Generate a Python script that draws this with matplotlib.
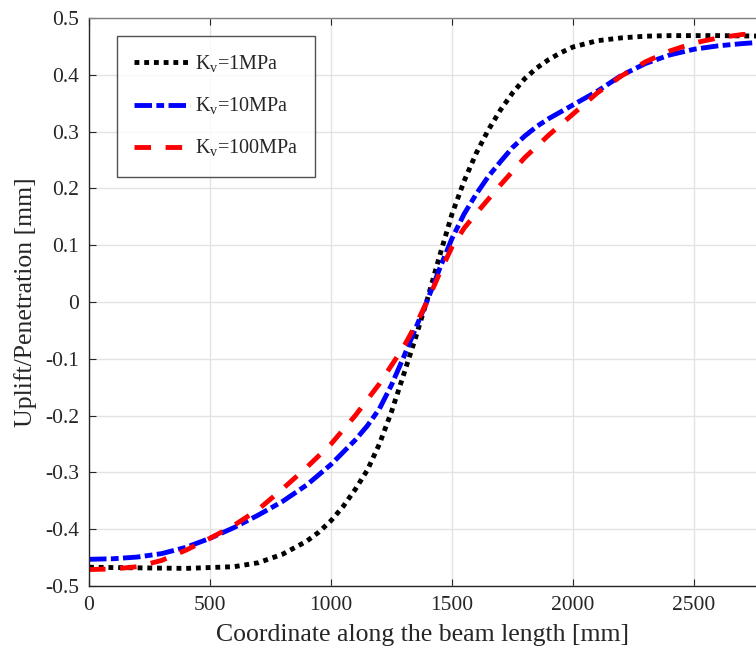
import matplotlib
matplotlib.use("Agg")
import matplotlib.pyplot as plt
import numpy as np

# ---- data ----
x_k1 = [0, 200, 400, 600, 700, 800, 900, 950, 1000, 1050, 1100, 1150, 1200, 1250,
        1300, 1350, 1400, 1450, 1500, 1550, 1600, 1650, 1700, 1750, 1800, 1850,
        1900, 1950, 2000, 2100, 2200, 2300, 2400, 2600, 2800]
y_k1 = [-0.467, -0.468, -0.469, -0.466, -0.459, -0.444, -0.421, -0.405, -0.385,
        -0.360, -0.330, -0.296, -0.250, -0.193, -0.128, -0.062, 0.008, 0.083,
        0.155, 0.213, 0.262, 0.303, 0.338, 0.368, 0.393, 0.412, 0.427, 0.439,
        0.449, 0.460, 0.465, 0.468, 0.469, 0.469, 0.468]

x_k10 = [0, 100, 200, 300, 400, 500, 600, 700, 800, 900, 1000, 1100, 1150, 1200,
         1250, 1300, 1350, 1400, 1450, 1500, 1550, 1600, 1650, 1700, 1750, 1800,
         1850, 1900, 1950, 2000, 2100, 2200, 2300, 2400, 2500, 2600, 2700, 2800]
y_k10 = [-0.453, -0.452, -0.449, -0.443, -0.432, -0.416, -0.397, -0.375, -0.351,
         -0.322, -0.286, -0.243, -0.218, -0.188, -0.146, -0.097, -0.046, 0.005,
         0.060, 0.112, 0.155, 0.190, 0.221, 0.247, 0.272, 0.292, 0.309, 0.323,
         0.335, 0.347, 0.371, 0.399, 0.420, 0.435, 0.445, 0.451, 0.455, 0.458]

x_k100 = [0, 100, 200, 300, 400, 500, 600, 700, 800, 900, 1000, 1100, 1200, 1300,
          1350, 1400, 1450, 1500, 1550, 1600, 1700, 1800, 1900, 2000, 2100, 2200,
          2300, 2400, 2500, 2600, 2700, 2800]
y_k100 = [-0.471, -0.470, -0.466, -0.455, -0.437, -0.416, -0.393, -0.365, -0.329,
          -0.291, -0.250, -0.200, -0.144, -0.079, -0.040, 0.003, 0.052, 0.097,
          0.130, 0.156, 0.206, 0.254, 0.294, 0.331, 0.368, 0.398, 0.423, 0.442,
          0.456, 0.465, 0.471, 0.472]

labels = ["K$_\\mathrm{v}$=1MPa", "K$_\\mathrm{v}$=10MPa", "K$_\\mathrm{v}$=100MPa"]
xticks = [0, 500, 1000, 1500, 2000, 2500]
yticks = [-0.5, -0.4, -0.3, -0.2, -0.1, 0, 0.1, 0.2, 0.3, 0.4, 0.5]
xlabel = "Coordinate along the beam length [mm]"
ylabel = "Uplift/Penetration [mm]"

plt.rcParams['font.family'] = ['Liberation Serif', 'DejaVu Serif']
plt.rcParams['mathtext.fontset'] = 'custom'
plt.rcParams['mathtext.rm'] = 'Liberation Serif'

fig = plt.figure(figsize=(7.56, 6.57), dpi=100)
ax = fig.add_axes([89/756, 71/657, 1 - 89/756, (586-18)/657])

lw = 3.5
ax.plot(x_k1, y_k1, color='black', lw=lw, linestyle=(0, (1, 1)), label=labels[0],
        dash_capstyle='butt')
ax.plot(x_k10, y_k10, color='#0000ff', lw=lw, linestyle=(0, (3.6, 0.9, 1.6, 0.9)),
        label=labels[1])
ax.plot(x_k100, y_k100, color='#ff0000', lw=lw, linestyle=(0, (3.4, 3.0)),
        label=labels[2])

ax.set_xlim(0, 2756)
ax.set_ylim(-0.5, 0.5)
ax.set_xticks(xticks)
ax.set_yticks(yticks)
ax.set_xticklabels([str(t) for t in xticks])
ax.set_yticklabels(["0" if t == 0 else f"{t:g}" for t in yticks])
ax.grid(True, color='#e3e3e3', lw=1.0)
ax.set_axisbelow(True)

for s in ['left', 'bottom']:
    ax.spines[s].set_color('#262626')
    ax.spines[s].set_linewidth(1.0)
ax.spines['top'].set_color('#7f7f7f')
ax.spines['top'].set_linewidth(1.0)
ax.spines['right'].set_visible(False)
ax.tick_params(direction='in', length=5, width=0.8, colors='#262626',
               labelsize=15.5, top=True, right=False, pad=7)
ax.tick_params(axis='x', top=True, labeltop=False)

ax.set_xlabel(xlabel, fontsize=18.5, color='#262626', labelpad=7)
ax.set_ylabel(ylabel, fontsize=18.5, color='#262626', labelpad=6)

leg = ax.legend(loc='upper left', bbox_to_anchor=(0.042, 0.968), fontsize=14.5,
                frameon=True, fancybox=False, edgecolor='#262626',
                handlelength=2.75, handletextpad=0.25, labelspacing=1.05,
                borderpad=0.85, borderaxespad=0)
leg.get_frame().set_linewidth(1.0)
for t in leg.get_texts():
    t.set_color('#262626')

fig.savefig("out.png", dpi=100)
